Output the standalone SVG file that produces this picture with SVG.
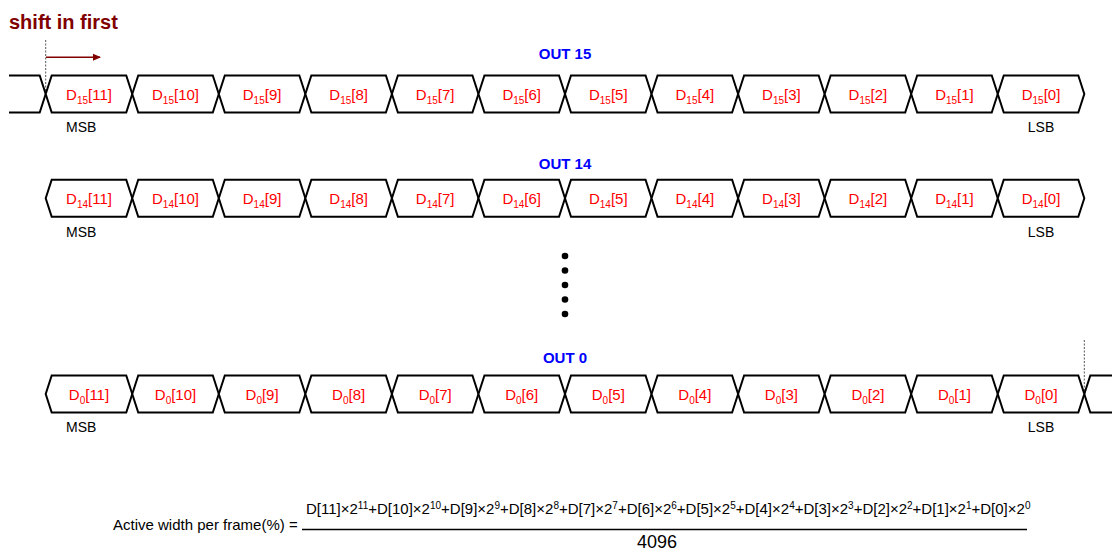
<svg xmlns="http://www.w3.org/2000/svg" xmlns:xlink="http://www.w3.org/1999/xlink" width="1112" height="553" viewBox="0 0 1112 553">
<style>
.bus{fill:#fff;stroke:#000;stroke-width:2;stroke-linejoin:miter}
.ln{fill:none;stroke:#000;stroke-width:2}
.lbl{font-family:"Liberation Sans",Arial,sans-serif;font-size:15px;fill:#ff0000;text-anchor:middle}
.sub{font-size:10px}
.ttl{font-family:"Liberation Sans",Arial,sans-serif;font-size:15px;font-weight:bold;fill:#0000ff;text-anchor:middle}
.ms{font-family:"Liberation Sans",Arial,sans-serif;font-size:14px;fill:#000}
.f{font-family:"Liberation Sans",Arial,sans-serif;font-size:15px;fill:#000}
.sup{font-size:10px}
.dash{stroke:#555;stroke-width:1;stroke-dasharray:2,1.5;fill:none}
</style>
<defs>
<polygon id="box" points="0,0 6,-18.5 80.55,-18.5 86.55,0 80.55,18.5 6,18.5"/>
<marker id="ah" markerWidth="8" markerHeight="8" refX="7" refY="4" orient="auto" markerUnits="userSpaceOnUse">
<path d="M0,0.5 L8,4 L0,7.5 z" fill="#800000"/>
</marker>
</defs>
<rect width="1112" height="553" fill="#fff"/>
<text x="9" y="29" font-family="Liberation Sans,Arial,sans-serif" font-size="20" font-weight="bold" fill="#800000">shift in first</text>

<g id="connectors">
<line class="dash" x1="45.7" y1="40" x2="45.7" y2="94"/>
<line x1="46" y1="57.3" x2="100" y2="57.3" stroke="#800000" stroke-width="1.5" marker-end="url(#ah)"/>
<line class="dash" x1="1084.3" y1="340" x2="1084.3" y2="394"/>
<polyline class="ln" points="9,75.5 39.7,75.5 45.7,94 39.7,112.5 9,112.5"/>
<polyline class="ln" points="1112,375.5 1090.3,375.5 1084.3,394 1090.3,412.5 1112,412.5"/>
</g>

<text class="ttl" x="565" y="58.5">OUT 15</text>
<text class="ttl" x="565" y="168.5">OUT 14</text>
<text class="ttl" x="565" y="362.5">OUT 0</text>

<g id="row15">
<g id="o15b11"><use xlink:href="#box" class="bus" x="45.7" y="94"/><text class="lbl" x="88.98" y="100">D<tspan class="sub" dy="4">15</tspan><tspan dy="-4">[11]</tspan></text></g>
<g id="o15b10"><use xlink:href="#box" class="bus" x="132.25" y="94"/><text class="lbl" x="175.53" y="100">D<tspan class="sub" dy="4">15</tspan><tspan dy="-4">[10]</tspan></text></g>
<g id="o15b9"><use xlink:href="#box" class="bus" x="218.8" y="94"/><text class="lbl" x="262.08" y="100">D<tspan class="sub" dy="4">15</tspan><tspan dy="-4">[9]</tspan></text></g>
<g id="o15b8"><use xlink:href="#box" class="bus" x="305.35" y="94"/><text class="lbl" x="348.63" y="100">D<tspan class="sub" dy="4">15</tspan><tspan dy="-4">[8]</tspan></text></g>
<g id="o15b7"><use xlink:href="#box" class="bus" x="391.9" y="94"/><text class="lbl" x="435.18" y="100">D<tspan class="sub" dy="4">15</tspan><tspan dy="-4">[7]</tspan></text></g>
<g id="o15b6"><use xlink:href="#box" class="bus" x="478.45" y="94"/><text class="lbl" x="521.73" y="100">D<tspan class="sub" dy="4">15</tspan><tspan dy="-4">[6]</tspan></text></g>
<g id="o15b5"><use xlink:href="#box" class="bus" x="565" y="94"/><text class="lbl" x="608.28" y="100">D<tspan class="sub" dy="4">15</tspan><tspan dy="-4">[5]</tspan></text></g>
<g id="o15b4"><use xlink:href="#box" class="bus" x="651.55" y="94"/><text class="lbl" x="694.83" y="100">D<tspan class="sub" dy="4">15</tspan><tspan dy="-4">[4]</tspan></text></g>
<g id="o15b3"><use xlink:href="#box" class="bus" x="738.1" y="94"/><text class="lbl" x="781.38" y="100">D<tspan class="sub" dy="4">15</tspan><tspan dy="-4">[3]</tspan></text></g>
<g id="o15b2"><use xlink:href="#box" class="bus" x="824.65" y="94"/><text class="lbl" x="867.93" y="100">D<tspan class="sub" dy="4">15</tspan><tspan dy="-4">[2]</tspan></text></g>
<g id="o15b1"><use xlink:href="#box" class="bus" x="911.2" y="94"/><text class="lbl" x="954.48" y="100">D<tspan class="sub" dy="4">15</tspan><tspan dy="-4">[1]</tspan></text></g>
<g id="o15b0"><use xlink:href="#box" class="bus" x="997.75" y="94"/><text class="lbl" x="1041.03" y="100">D<tspan class="sub" dy="4">15</tspan><tspan dy="-4">[0]</tspan></text></g>
<text class="ms" x="66" y="131.7">MSB</text>
<text class="ms" x="1041" y="131.7" text-anchor="middle">LSB</text>
</g>

<g id="row14">
<g id="o14b11"><use xlink:href="#box" class="bus" x="45.7" y="198.25"/><text class="lbl" x="88.98" y="204.25">D<tspan class="sub" dy="4">14</tspan><tspan dy="-4">[11]</tspan></text></g>
<g id="o14b10"><use xlink:href="#box" class="bus" x="132.25" y="198.25"/><text class="lbl" x="175.53" y="204.25">D<tspan class="sub" dy="4">14</tspan><tspan dy="-4">[10]</tspan></text></g>
<g id="o14b9"><use xlink:href="#box" class="bus" x="218.8" y="198.25"/><text class="lbl" x="262.08" y="204.25">D<tspan class="sub" dy="4">14</tspan><tspan dy="-4">[9]</tspan></text></g>
<g id="o14b8"><use xlink:href="#box" class="bus" x="305.35" y="198.25"/><text class="lbl" x="348.63" y="204.25">D<tspan class="sub" dy="4">14</tspan><tspan dy="-4">[8]</tspan></text></g>
<g id="o14b7"><use xlink:href="#box" class="bus" x="391.9" y="198.25"/><text class="lbl" x="435.18" y="204.25">D<tspan class="sub" dy="4">14</tspan><tspan dy="-4">[7]</tspan></text></g>
<g id="o14b6"><use xlink:href="#box" class="bus" x="478.45" y="198.25"/><text class="lbl" x="521.73" y="204.25">D<tspan class="sub" dy="4">14</tspan><tspan dy="-4">[6]</tspan></text></g>
<g id="o14b5"><use xlink:href="#box" class="bus" x="565" y="198.25"/><text class="lbl" x="608.28" y="204.25">D<tspan class="sub" dy="4">14</tspan><tspan dy="-4">[5]</tspan></text></g>
<g id="o14b4"><use xlink:href="#box" class="bus" x="651.55" y="198.25"/><text class="lbl" x="694.83" y="204.25">D<tspan class="sub" dy="4">14</tspan><tspan dy="-4">[4]</tspan></text></g>
<g id="o14b3"><use xlink:href="#box" class="bus" x="738.1" y="198.25"/><text class="lbl" x="781.38" y="204.25">D<tspan class="sub" dy="4">14</tspan><tspan dy="-4">[3]</tspan></text></g>
<g id="o14b2"><use xlink:href="#box" class="bus" x="824.65" y="198.25"/><text class="lbl" x="867.93" y="204.25">D<tspan class="sub" dy="4">14</tspan><tspan dy="-4">[2]</tspan></text></g>
<g id="o14b1"><use xlink:href="#box" class="bus" x="911.2" y="198.25"/><text class="lbl" x="954.48" y="204.25">D<tspan class="sub" dy="4">14</tspan><tspan dy="-4">[1]</tspan></text></g>
<g id="o14b0"><use xlink:href="#box" class="bus" x="997.75" y="198.25"/><text class="lbl" x="1041.03" y="204.25">D<tspan class="sub" dy="4">14</tspan><tspan dy="-4">[0]</tspan></text></g>
<text class="ms" x="66" y="236.5">MSB</text>
<text class="ms" x="1041" y="236.5" text-anchor="middle">LSB</text>
</g>

<g id="ellipsis" fill="#000">
<circle cx="565" cy="256" r="3.3"/>
<circle cx="565" cy="270.5" r="3.3"/>
<circle cx="565" cy="285" r="3.3"/>
<circle cx="565" cy="299.5" r="3.3"/>
<circle cx="565" cy="314" r="3.3"/>
</g>

<g id="row0">
<g id="o0b11"><use xlink:href="#box" class="bus" x="45.7" y="394"/><text class="lbl" x="88.98" y="400">D<tspan class="sub" dy="4">0</tspan><tspan dy="-4">[11]</tspan></text></g>
<g id="o0b10"><use xlink:href="#box" class="bus" x="132.25" y="394"/><text class="lbl" x="175.53" y="400">D<tspan class="sub" dy="4">0</tspan><tspan dy="-4">[10]</tspan></text></g>
<g id="o0b9"><use xlink:href="#box" class="bus" x="218.8" y="394"/><text class="lbl" x="262.08" y="400">D<tspan class="sub" dy="4">0</tspan><tspan dy="-4">[9]</tspan></text></g>
<g id="o0b8"><use xlink:href="#box" class="bus" x="305.35" y="394"/><text class="lbl" x="348.63" y="400">D<tspan class="sub" dy="4">0</tspan><tspan dy="-4">[8]</tspan></text></g>
<g id="o0b7"><use xlink:href="#box" class="bus" x="391.9" y="394"/><text class="lbl" x="435.18" y="400">D<tspan class="sub" dy="4">0</tspan><tspan dy="-4">[7]</tspan></text></g>
<g id="o0b6"><use xlink:href="#box" class="bus" x="478.45" y="394"/><text class="lbl" x="521.73" y="400">D<tspan class="sub" dy="4">0</tspan><tspan dy="-4">[6]</tspan></text></g>
<g id="o0b5"><use xlink:href="#box" class="bus" x="565" y="394"/><text class="lbl" x="608.28" y="400">D<tspan class="sub" dy="4">0</tspan><tspan dy="-4">[5]</tspan></text></g>
<g id="o0b4"><use xlink:href="#box" class="bus" x="651.55" y="394"/><text class="lbl" x="694.83" y="400">D<tspan class="sub" dy="4">0</tspan><tspan dy="-4">[4]</tspan></text></g>
<g id="o0b3"><use xlink:href="#box" class="bus" x="738.1" y="394"/><text class="lbl" x="781.38" y="400">D<tspan class="sub" dy="4">0</tspan><tspan dy="-4">[3]</tspan></text></g>
<g id="o0b2"><use xlink:href="#box" class="bus" x="824.65" y="394"/><text class="lbl" x="867.93" y="400">D<tspan class="sub" dy="4">0</tspan><tspan dy="-4">[2]</tspan></text></g>
<g id="o0b1"><use xlink:href="#box" class="bus" x="911.2" y="394"/><text class="lbl" x="954.48" y="400">D<tspan class="sub" dy="4">0</tspan><tspan dy="-4">[1]</tspan></text></g>
<g id="o0b0"><use xlink:href="#box" class="bus" x="997.75" y="394"/><text class="lbl" x="1041.03" y="400">D<tspan class="sub" dy="4">0</tspan><tspan dy="-4">[0]</tspan></text></g>
<text class="ms" x="66" y="432">MSB</text>
<text class="ms" x="1041" y="432" text-anchor="middle">LSB</text>
</g>

<g id="formula">
<text class="f" x="113" y="530">Active width per frame(%) =</text>
<line x1="302" y1="529.5" x2="1027" y2="529.5" stroke="#000" stroke-width="1.5"/>
<text class="f" x="306" y="514">D[11]×2<tspan class="sup" dy="-5">11</tspan><tspan dy="5">+D[10]×2</tspan><tspan class="sup" dy="-5">10</tspan><tspan dy="5">+D[9]×2</tspan><tspan class="sup" dy="-5">9</tspan><tspan dy="5">+D[8]×2</tspan><tspan class="sup" dy="-5">8</tspan><tspan dy="5">+D[7]×2</tspan><tspan class="sup" dy="-5">7</tspan><tspan dy="5">+D[6]×2</tspan><tspan class="sup" dy="-5">6</tspan><tspan dy="5">+D[5]×2</tspan><tspan class="sup" dy="-5">5</tspan><tspan dy="5">+D[4]×2</tspan><tspan class="sup" dy="-5">4</tspan><tspan dy="5">+D[3]×2</tspan><tspan class="sup" dy="-5">3</tspan><tspan dy="5">+D[2]×2</tspan><tspan class="sup" dy="-5">2</tspan><tspan dy="5">+D[1]×2</tspan><tspan class="sup" dy="-5">1</tspan><tspan dy="5">+D[0]×2</tspan><tspan class="sup" dy="-5">0</tspan></text>
<text x="637" y="548" font-family="Liberation Sans,Arial,sans-serif" font-size="18" fill="#000">4096</text>
</g>
</svg>
